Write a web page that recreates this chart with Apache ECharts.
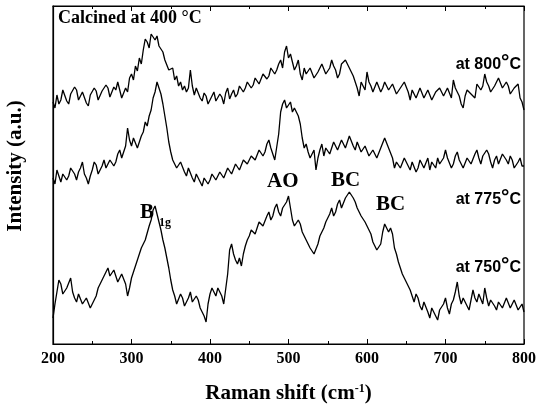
<!doctype html>
<html lang="en">
<head>
    <meta charset="UTF-8">
    <title>Raman spectra</title>
    <style>
        html, body { margin: 0; padding: 0; background: #fff; }
        #main { width: 538px; height: 410px; }
    </style>
</head>
<body>
<div id="main"></div>
<script src="https://cdn.jsdelivr.net/npm/echarts@6.0.0/dist/echarts.min.js"></script>
<script type="text/javascript">
    // Raman shift (cm-1), one reading every 2.5 cm-1
    var shift = [200,202.5,205,207.5,210,212.5,215,217.5,220,222.5,225,227.5,230,232.5,235,237.5,240,242.5,245,247.5,
        250,252.5,255,257.5,260,262.5,265,267.5,270,272.5,275,277.5,280,282.5,285,287.5,290,292.5,295,297.5,
        300,302.5,305,307.5,310,312.5,315,317.5,320,322.5,325,327.5,330,332.5,335,337.5,340,342.5,345,347.5,
        350,352.5,355,357.5,360,362.5,365,367.5,370,372.5,375,377.5,380,382.5,385,387.5,390,392.5,395,397.5,
        400,402.5,405,407.5,410,412.5,415,417.5,420,422.5,425,427.5,430,432.5,435,437.5,440,442.5,445,447.5,
        450,452.5,455,457.5,460,462.5,465,467.5,470,472.5,475,477.5,480,482.5,485,487.5,490,492.5,495,497.5,
        500,502.5,505,507.5,510,512.5,515,517.5,520,522.5,525,527.5,530,532.5,535,537.5,540,542.5,545,547.5,
        550,552.5,555,557.5,560,562.5,565,567.5,570,572.5,575,577.5,580,582.5,585,587.5,590,592.5,595,597.5,
        600,602.5,605,607.5,610,612.5,615,617.5,620,622.5,625,627.5,630,632.5,635,637.5,640,642.5,645,647.5,
        650,652.5,655,657.5,660,662.5,665,667.5,670,672.5,675,677.5,680,682.5,685,687.5,690,692.5,695,697.5,
        700,702.5,705,707.5,710,712.5,715,717.5,720,722.5,725,727.5,730,732.5,735,737.5,740,742.5,745,747.5,
        750,752.5,755,757.5,760,762.5,765,767.5,770,772.5,775,777.5,780,782.5,785,787.5,790,792.5,795,797.5,
        800];

    // intensity (a.u.), spectra offset as in the figure
    var at800 = [242,236,249,240,244,254,252,243,240,250,248,257,254,244,243,252,250,241,238,249,
        247,256,253,244,245,253,251,259,256,247,248,257,254,262,254,246,247,256,252,266,
        270,264,278,273,286,280,294,305,302,296,310,312,304,308,298,300,292,284,282,274,
        272,276,264,268,258,262,254,258,252,256,274,258,249,256,254,246,243,251,248,240,
        240,248,252,243,242,250,247,240,251,256,245,250,254,247,250,258,258,252,256,262,
        263,256,259,266,266,260,262,270,272,265,268,276,278,270,274,280,284,276,292,298,
        286,290,282,274,278,284,270,264,276,270,268,276,274,266,264,272,272,280,278,270,
        270,276,284,278,274,266,270,280,278,284,282,276,272,268,266,256,248,262,260,254,
        272,262,258,252,254,262,260,252,256,262,262,254,254,260,258,250,248,256,256,262,
        260,252,244,254,252,246,247,256,254,246,246,254,252,244,244,252,250,256,256,248,
        248,256,254,246,264,256,252,248,240,236,248,254,256,250,252,246,260,262,254,258,
        270,262,258,252,250,258,260,266,264,256,254,262,258,250,250,256,254,260,246,242,
        234];

    var at775 = [166,160,174,168,162,170,172,164,168,176,178,170,164,172,176,182,170,166,160,168,
        174,182,179,170,172,178,184,176,176,184,186,178,182,190,194,186,188,198,216,204,
        198,206,204,196,198,208,212,222,218,228,234,246,252,262,260,250,240,228,216,202,
        192,184,182,176,174,182,180,172,168,176,174,166,162,170,170,162,158,166,168,160,
        164,170,172,164,164,172,174,166,168,176,178,170,172,180,182,174,176,184,186,180,
        180,188,190,184,186,194,196,188,192,200,204,196,194,184,182,210,232,240,244,236,
        238,242,232,236,234,228,220,206,196,200,192,186,188,194,174,186,194,200,188,196,
        198,190,192,202,200,194,194,204,204,196,198,208,206,198,194,202,200,192,190,198,
        196,188,186,194,194,186,188,196,198,206,204,196,194,186,176,182,184,176,178,186,
        186,178,174,182,180,172,176,184,184,176,178,186,174,182,182,176,186,180,178,186,
        194,186,184,176,180,188,192,184,184,176,176,186,188,180,182,190,194,186,180,188,
        186,194,190,182,176,184,188,180,182,190,192,184,180,188,184,176,174,182,186,178,
        178];

    var at750 = [26,40,52,64,60,50,48,56,58,66,52,46,42,50,48,40,38,46,44,36,
        34,44,48,56,56,64,64,72,76,68,66,74,72,62,62,70,68,60,48,56,
        66,72,74,84,86,96,94,104,106,118,124,134,138,130,122,114,104,96,86,76,
        64,54,48,40,42,50,46,38,38,46,52,42,40,48,44,36,32,28,22,40,
        50,56,54,48,56,52,48,40,40,70,94,100,90,84,80,86,78,90,98,104,
        108,114,116,110,112,122,124,118,120,128,132,124,128,136,140,132,128,136,134,142,
        148,136,124,118,118,124,120,112,108,104,102,96,98,90,92,100,108,112,116,122,
        124,130,136,128,132,140,144,136,138,146,148,152,154,146,142,136,134,128,126,122,
        118,114,110,102,98,94,92,100,112,120,118,112,116,110,96,90,82,76,70,66,
        64,58,54,48,42,50,46,38,34,42,40,32,26,36,38,28,24,34,32,40,
        46,36,30,40,44,52,62,48,40,46,48,38,34,44,54,46,42,50,48,40,
        56,46,38,44,46,38,34,42,44,36,38,46,46,36,36,44,42,34,34,40,
        32];

    var xTicks = [200, 300, 400, 500, 600, 700, 800];

    function pairs(ys) {
        var out = [];
        for (var i = 0; i < shift.length; i++) {
            out.push([shift[i], ys[i]]);
        }
        return out;
    }

    var serif = '"Liberation Serif", "DejaVu Serif", serif';
    var sans = '"Liberation Sans", Arial, sans-serif';

    var myChart = echarts.init(document.getElementById('main'));

    var lineStyle = { color: '#000', width: 1.3 };

    // label "at XXX°C" with a bigger degree sign
    function tempLabel(t, top) {
        return {
            type: 'text', right: 17, top: top,
            style: {
                text: '{a|at ' + t + '}{d|°}{a|C}',
                rich: {
                    a: { font: 'bold 16px ' + sans, fill: '#000', verticalAlign: 'bottom' },
                    d: { font: 'bold 21px ' + sans, fill: '#000', verticalAlign: 'bottom' }
                }
            }
        };
    }

    var option = {
        animation: false,
        grid: {
            left: 53, right: 14, top: 6, bottom: 66,
            outerBoundsMode: 'none',
            containLabel: false,
            show: true, borderColor: '#000', borderWidth: 1.2,
            backgroundColor: 'transparent'
        },
        xAxis: [
            {
                type: 'value', min: xTicks[0], max: xTicks[xTicks.length - 1], interval: 100,
                axisLine: { lineStyle: { color: '#000', width: 1.2 } },
                axisTick: { inside: true, length: 5, lineStyle: { color: '#000' } },
                minorTick: { show: true, splitNumber: 2, length: 3, lineStyle: { color: '#000' } },
                splitLine: { show: false },
                axisLabel: { color: '#000', fontFamily: serif, fontWeight: 'bold', fontSize: 16, margin: 7 },
                name: '{t|Raman shift (cm}{s|-1}{t|)}',
                nameLocation: 'middle', nameGap: 39,
                nameTextStyle: {
                    rich: {
                        t: { fontFamily: serif, fontWeight: 'bold', fontSize: 21, color: '#000' },
                        s: { fontFamily: serif, fontWeight: 'bold', fontSize: 12, color: '#000', verticalAlign: 'top', padding: [0, 0, 10, 0] }
                    }
                }
            },
            {
                type: 'value', position: 'top', min: 200, max: 800, interval: 100,
                axisLine: { show: true, lineStyle: { color: '#000', width: 1.2 } },
                axisTick: { inside: true, length: 5, lineStyle: { color: '#000' } },
                minorTick: { show: true, splitNumber: 2, length: 3, lineStyle: { color: '#000' } },
                splitLine: { show: false },
                axisLabel: { show: false }
            }
        ],
        yAxis: {
            type: 'value', min: 0, max: 338,
            axisLine: { show: true, lineStyle: { color: '#000', width: 1.2 } },
            axisTick: { show: false },
            splitLine: { show: false },
            axisLabel: { show: false }
        },
        series: [
            { name: 'at 800°C', type: 'line', showSymbol: false, lineStyle: lineStyle, data: pairs(at800) },
            { name: 'at 775°C', type: 'line', showSymbol: false, lineStyle: lineStyle, data: pairs(at775) },
            { name: 'at 750°C', type: 'line', showSymbol: false, lineStyle: lineStyle, data: pairs(at750) }
        ],
        graphic: [
            // y axis title, sits a little above the middle in the original
            {
                type: 'text', x: 16, y: 166, rotation: Math.PI / 2,
                style: { text: 'Intensity (a.u.)', font: 'bold 21px ' + serif, fill: '#000', align: 'center', verticalAlign: 'middle' }
            },
            { type: 'text', left: 58, top: 9, style: { text: 'Calcined at 400 °C', font: 'bold 18px ' + serif, fill: '#000' } },
            tempLabel(800, 52),
            tempLabel(775, 187),
            tempLabel(750, 255),
            { type: 'text', left: 140, top: 202, style: { text: 'B', font: 'bold 21px ' + serif, fill: '#000' } },
            { type: 'text', left: 159, top: 217, style: { text: '1g', font: 'bold 12px ' + serif, fill: '#000' } },
            { type: 'text', left: 267, top: 171, style: { text: 'AO', font: 'bold 21px ' + serif, fill: '#000' } },
            { type: 'text', left: 331, top: 170, style: { text: 'BC', font: 'bold 21px ' + serif, fill: '#000' } },
            { type: 'text', left: 376, top: 194, style: { text: 'BC', font: 'bold 21px ' + serif, fill: '#000' } }
        ]
    };

    myChart.setOption(option);
</script>
</body>
</html>
